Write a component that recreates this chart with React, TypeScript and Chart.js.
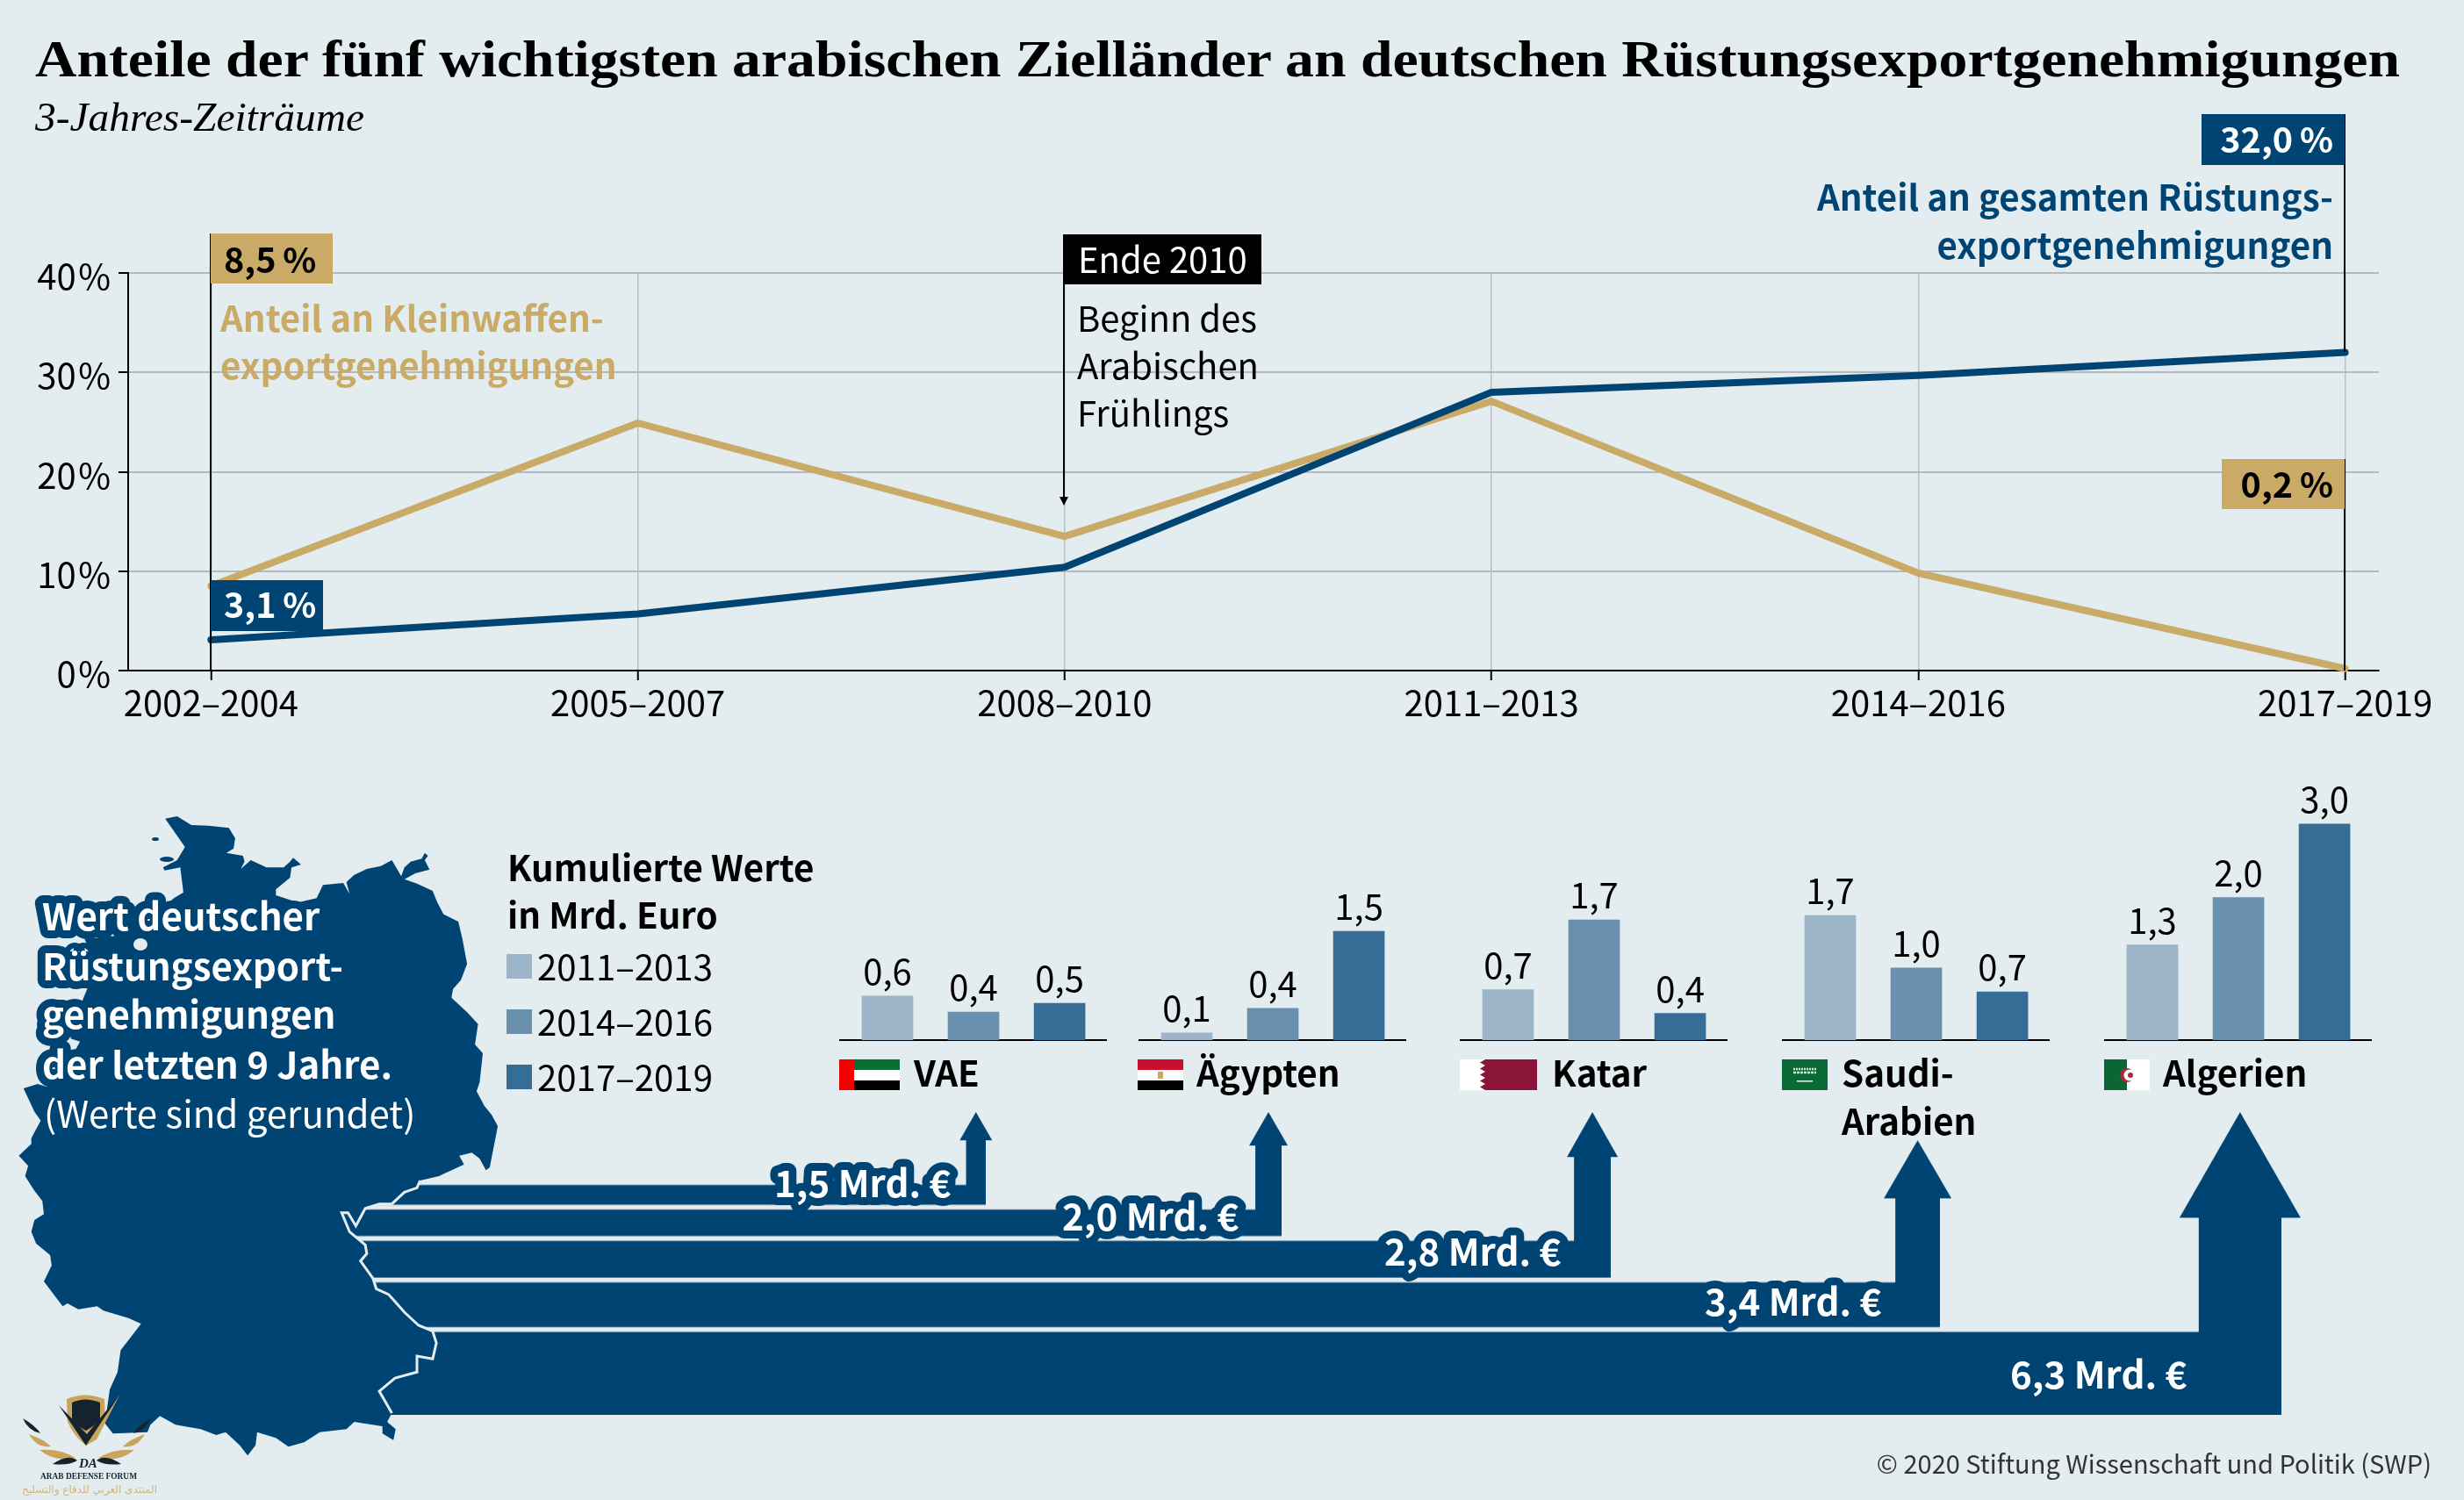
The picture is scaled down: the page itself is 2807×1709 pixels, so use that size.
import React, { useEffect, useRef } from 'react';
import { Chart, registerables } from 'chart.js';

Chart.register(...registerables);

const periods = ['2002–2004', '2005–2007', '2008–2010', '2011–2013', '2014–2016', '2017–2019'];
const totalShare = [3.1, 5.7, 10.4, 28.0, 29.7, 32.0];
const smallArmsShare = [8.5, 24.9, 13.5, 27.1, 9.8, 0.2];
const yTicks = [0, 10, 20, 30, 40];

const barPeriods = ['2011–2013', '2014–2016', '2017–2019'];
const countries = ['VAE', 'Ägypten', 'Katar', 'Saudi-Arabien', 'Algerien'];
const vaeValues = [0.61, 0.39, 0.51];
const egyptValues = [0.1, 0.44, 1.51];
const qatarValues = [0.7, 1.67, 0.37];
const saudiValues = [1.73, 1.0, 0.67];
const algeriaValues = [1.32, 1.98, 3.0];
const countryValues = [vaeValues, egyptValues, qatarValues, saudiValues, algeriaValues];
const exportTotals = [1.5, 2.0, 2.8, 3.4, 6.3];

const W = 2807;
const H = 1709;
const BG = '#e3ecef';
const NAVY = '#004474';
const GOLD = '#c9aa66';
const BAR_COLORS = ['#9bb4c8', '#6a90b0', '#366d96'];
const SANS = '"Noto Sans CJK SC", "Noto Sans", sans-serif';
const SERIF = '"Liberation Serif", serif';

const comma = (v: number, digits = 1) => v.toFixed(digits).replace('.', ',');

function LineChart() {
  const ref = useRef<HTMLCanvasElement>(null);
  useEffect(() => {
    const line = (label: string, data: number[], color: string) => ({
      label,
      data: data.map((y, x) => ({ x, y })),
      borderColor: color,
      borderWidth: 8,
      borderCapStyle: 'round' as const,
      borderJoinStyle: 'round' as const,
      pointRadius: 0,
      tension: 0,
      clip: false as const,
    });
    const chart = new Chart(ref.current!, {
      type: 'line',
      data: {
        datasets: [
          line('Anteil an gesamten Rüstungsexportgenehmigungen', totalShare, NAVY),
          line('Anteil an Kleinwaffenexportgenehmigungen', smallArmsShare, GOLD),
        ],
      },
      options: {
        animation: false,
        responsive: false,
        devicePixelRatio: 1,
        layout: { padding: { top: 311, right: 97, left: 0, bottom: 76 } },
        plugins: { legend: { display: false }, tooltip: { enabled: false } },
        scales: {
          x: {
            type: 'linear',
            min: -0.194,
            max: 5.079,
            afterBuildTicks: (s: any) => {
              s.ticks = periods.map((_, value) => ({ value }));
            },
            afterFit: (s: any) => {
              s.height = 60;
              s.paddingLeft = 0;
              s.paddingRight = 0;
            },
            border: { color: '#000', width: 2 },
            grid: { color: '#b9c0c4', lineWidth: 1.5, tickColor: '#000', tickLength: 11, tickWidth: 2 },
            ticks: {
              autoSkip: false,
              maxRotation: 0,
              color: '#000',
              padding: 2,
              font: { family: SANS, size: 40 },
              callback: (v: any) => periods[v],
            },
          },
          y: {
            min: 0,
            max: 40,
            afterBuildTicks: (s: any) => {
              s.ticks = yTicks.map((value) => ({ value }));
            },
            afterFit: (s: any) => {
              s.width = 146;
              s.paddingTop = 0;
              s.paddingBottom = 0;
            },
            border: { color: '#000', width: 2 },
            grid: { color: '#b3b9bc', lineWidth: 2, tickColor: '#000', tickLength: 11, tickWidth: 2 },
            ticks: {
              color: '#000',
              padding: 9,
              labelOffset: 4,
              font: { family: SANS, size: 40 },
              callback: (v: any) => `${v}\u200A%`,
            },
          },
        },
      },
    });
    return () => chart.destroy();
  }, []);
  return <canvas ref={ref} width={W} height={900} style={{ position: 'absolute', left: 0, top: 0 }} />;
}

const valueLabels = {
  id: 'valueLabels',
  afterDatasetsDraw(chart: any) {
    const { ctx } = chart;
    ctx.save();
    ctx.font = `40px ${SANS}`;
    ctx.fillStyle = '#000';
    ctx.textAlign = 'center';
    ctx.textBaseline = 'alphabetic';
    chart.getDatasetMeta(0).data.forEach((bar: any, i: number) => {
      ctx.fillText(comma(chart.data.datasets[0].data[i].y), bar.x, bar.y - 13);
    });
    ctx.restore();
  },
};

function CountryBars({ values, left, label }: { values: number[]; left: number; label: string }) {
  const ref = useRef<HTMLCanvasElement>(null);
  useEffect(() => {
    const chart = new Chart(ref.current!, {
      type: 'bar',
      data: {
        datasets: [
          {
            label,
            data: values.map((y, x) => ({ x, y })) as any,
            backgroundColor: BAR_COLORS,
            barThickness: 58,
          },
        ],
      },
      options: {
        animation: false,
        responsive: false,
        devicePixelRatio: 1,
        layout: { padding: { top: 26, bottom: 2, left: 0, right: 0 } },
        plugins: { legend: { display: false }, tooltip: { enabled: false } },
        scales: {
          x: {
            type: 'linear',
            offset: false,
            min: -0.561,
            max: 2.55,
            afterFit: (s: any) => {
              s.height = 0;
              s.paddingLeft = 0;
              s.paddingRight = 0;
            },
            border: { color: '#000', width: 2 },
            grid: { display: false },
            ticks: { display: false },
          },
          y: { display: false, min: 0, max: 3.4 },
        },
      },
      plugins: [valueLabels],
    });
    return () => chart.destroy();
  }, [values, label]);
  return <canvas ref={ref} width={305} height={307} style={{ position: 'absolute', left, top: 880 }} />;
}

// where each flow ends on the page: right edge of the shaft, and the arrow head
const flowLayout = [
  { end: 1123, tipY: 1267, headY: 1299, headW: 37 },
  { end: 1460, tipY: 1267, headY: 1305, headW: 44 },
  { end: 1835, tipY: 1267, headY: 1318, headW: 58 },
  { end: 2210, tipY: 1299, headY: 1365, headW: 77 },
  { end: 2599, tipY: 1267, headY: 1387, headW: 138 },
];
const FLOW_TOP = 1250;
const FLOW_BOTTOM = 1611.5;
const FLOW_UNIT = 14.97;
const FLOW_GAP = 5.5 / FLOW_UNIT;

const flowArrows = {
  id: 'flowArrows',
  beforeDraw(chart: any) {
    const { ctx, scales } = chart;
    const { x, y } = scales;
    const top = (v: number) => y.getPixelForValue(v);
    ctx.save();
    ctx.fillStyle = NAVY;
    let base = 0;
    // stack the bands upwards, biggest at the bottom
    for (let i = exportTotals.length - 1; i >= 0; i--) {
      const v = exportTotals[i];
      const l = flowLayout[i];
      const bandBottom = top(base);
      const bandTop = top(base + v);
      const right = x.getPixelForValue(l.end);
      const left = right - (bandBottom - bandTop);
      const mid = (left + right) / 2;
      const headY = l.headY - FLOW_TOP;
      const tipY = l.tipY - FLOW_TOP;
      ctx.beginPath();
      ctx.moveTo(x.getPixelForValue(380), bandBottom);
      ctx.lineTo(right, bandBottom);
      ctx.lineTo(right, headY);
      ctx.lineTo(mid + l.headW / 2, headY);
      ctx.lineTo(mid, tipY);
      ctx.lineTo(mid - l.headW / 2, headY);
      ctx.lineTo(left, headY);
      ctx.lineTo(left, bandTop);
      ctx.lineTo(x.getPixelForValue(380), bandTop);
      ctx.closePath();
      ctx.fill();
      base += v + FLOW_GAP;
    }
    ctx.restore();
  },
};

function Flows() {
  const ref = useRef<HTMLCanvasElement>(null);
  useEffect(() => {
    const chart = new Chart(ref.current!, {
      type: 'scatter',
      data: { datasets: [{ label: 'Wert in Mrd. Euro', data: [], pointRadius: 0 }] },
      options: {
        animation: false,
        responsive: false,
        devicePixelRatio: 1,
        layout: { padding: 0 },
        plugins: { legend: { display: false }, tooltip: { enabled: false } },
        scales: {
          x: { display: false, type: 'linear', min: 0, max: W },
          y: { display: false, type: 'linear', min: 0, max: (FLOW_BOTTOM - FLOW_TOP) / FLOW_UNIT },
        },
      },
      plugins: [flowArrows],
    });
    return () => chart.destroy();
  }, []);
  return (
    <canvas
      ref={ref}
      width={W}
      height={FLOW_BOTTOM - FLOW_TOP}
      style={{ position: 'absolute', left: 0, top: FLOW_TOP, width: W, height: FLOW_BOTTOM - FLOW_TOP }}
    />
  );
}

// map outline, traced in crop coordinates and converted below
const northCoast = [
  [527, 98], [565, 90], [610, 120], [665, 122], [730, 130], [750, 165], [745, 200], [722, 215], [775, 225],
  [780, 245], [768, 270], [800, 240], [850, 265], [905, 265], [925, 245], [935, 232], [960, 255], [930, 265],
  [925, 300], [880, 340], [880, 360], [950, 385], [1010, 370], [1030, 325], [1095, 318], [1115, 355], [1105, 315],
  [1130, 290], [1170, 270], [1215, 260], [1250, 240], [1280, 295], [1290, 265], [1310, 245], [1345, 235], [1355, 215],
  [1365, 225], [1355, 240], [1370, 272], [1325, 285], [1290, 305], [1330, 320], [1380, 345], [1395, 385], [1415, 425],
  [1462, 450], [1475, 510], [1490, 595], [1470, 650], [1445, 680], [1440, 710], [1490, 760], [1525, 800], [1515, 870],
  [1540, 900], [1530, 1000], [1520, 1030], [1545, 1080], [1568, 1110], [1588, 1149],
];
const eastBorder = [
  [1562, 90], [1550, 100], [1530, 60], [1505, 40], [1465, 50], [1480, 80], [1400, 120], [1340, 135], [1330, 160],
  [1290, 175], [1250, 215], [1210, 215], [1165, 230], [1135, 290], [1110, 245], [1090, 245], [1115, 310], [1165, 355],
  [1170, 385], [1150, 410], [1190, 470], [1200, 505], [1240, 525], [1290, 585], [1335, 630], [1380, 650], [1392, 690],
  [1380, 745], [1330, 735], [1330, 790], [1260, 810], [1210, 855], [1250, 930],
];
const southWest = [
  [1235, 960], [1262, 985], [1255, 1022], [1220, 1000], [1220, 975], [1130, 960], [1105, 985], [1020, 995],
  [970, 1030], [920, 1045], [880, 1015], [820, 995], [815, 1040], [790, 1075], [765, 1040], [720, 995], [690, 1005],
  [640, 985], [560, 970], [510, 940], [480, 970], [470, 995], [360, 1000], [335, 965], [350, 850], [375, 790],
  [385, 715], [450, 625], [410, 605], [330, 580], [310, 565], [250, 575], [215, 555], [200, 565], [140, 480],
  [165, 425], [160, 390], [115, 350], [100, 310], [110, 270], [140, 250], [135, 205], [110, 170], [80, 120],
  [90, 85], [60, 50], [100, 10],
];
const westCoast = [
  [100, 1190], [130, 1130], [110, 1100], [75, 1020], [120, 1005], [150, 1015], [240, 890], [255, 860], [225, 850],
  [265, 715], [280, 675], [290, 560], [270, 510], [400, 495], [440, 490], [500, 420], [555, 370], [585, 350],
  [575, 265], [525, 275], [520, 265], [565, 240], [590, 195],
];
const fromNorth = (p: number[]) => [p[0] / 2.8, 900 + p[1] / 3];
const fromSouth = (p: number[]) => [p[0] / 2.8, 1300 + p[1] / 3];
const toPoints = (list: number[][]) => list.map((p) => `${p[0].toFixed(1)},${p[1].toFixed(1)}`).join(' ');
const mapOutline = toPoints([
  ...northCoast.map(fromNorth),
  ...eastBorder.map(fromSouth),
  ...southWest.map(fromSouth),
  ...westCoast.map(fromNorth),
]);
const borderLine = toPoints(eastBorder.slice(7).map(fromSouth));

function GermanyMap() {
  return (
    <svg width={W} height={H} style={{ position: 'absolute', left: 0, top: 0 }}>
      <polygon points={mapOutline} fill={NAVY} />
      <polyline points={borderLine} fill="none" stroke="#e3eef3" strokeWidth={3} />
      <ellipse cx={160} cy={1076} rx={8} ry={7} fill={BG} />
      <ellipse cx={177} cy={956} rx={4} ry={2} fill={NAVY} />
      <ellipse cx={190} cy={979} rx={8} ry={3} fill={NAVY} />
    </svg>
  );
}

function T(props: {
  x: number;
  y: number;
  size: number;
  bold?: boolean;
  fill?: string;
  end?: boolean;
  w?: number;
  halo?: boolean;
  family?: string;
  italic?: boolean;
  children: React.ReactNode;
}) {
  const { x, y, size, bold, fill = '#000', end, w, halo, family = SANS, italic, children } = props;
  return (
    <text
      x={x}
      y={family === SANS ? y + 1.5 : y}
      fontFamily={family}
      fontSize={size}
      fontWeight={bold ? 700 : 400}
      fontStyle={italic ? 'italic' : 'normal'}
      fill={fill}
      textAnchor={end ? 'end' : 'start'}
      textLength={w}
      lengthAdjust={w ? 'spacingAndGlyphs' : undefined}
      stroke={halo ? NAVY : undefined}
      strokeWidth={halo ? 18 : undefined}
      strokeLinejoin="round"
      paintOrder="stroke"
    >
      {children}
    </text>
  );
}

function Flags() {
  return (
    <g>
      <rect x={956} y={1207} width={69} height={12} fill="#0b6e33" />
      <rect x={956} y={1219} width={69} height={12} fill="#fff" />
      <rect x={956} y={1231} width={69} height={11} fill="#000" />
      <rect x={956} y={1207} width={17} height={35} fill="#f40000" />

      <rect x={1296} y={1207} width={52} height={12} fill="#c8102e" />
      <rect x={1296} y={1219} width={52} height={12} fill="#fff" />
      <rect x={1296} y={1231} width={52} height={11} fill="#000" />
      <rect x={1319} y={1221} width={6} height={8} fill="#c9a85a" />

      <rect x={1663} y={1207} width={88} height={35} fill="#fff" />
      <polygon
        points="1692,1207 1751,1207 1751,1242 1692,1242 1686,1238.5 1692,1235 1686,1231.5 1692,1228 1686,1224.5 1692,1221 1686,1217.5 1692,1214 1686,1210.5"
        fill="#8a1538"
      />

      <rect x={2030} y={1207} width={52} height={35} fill="#0a6a35" />
      <line x1={2043} y1={1218} x2={2069} y2={1218} stroke="#d6e6db" strokeWidth={2.5} strokeDasharray="2 1" />
      <line x1={2043} y1={1222} x2={2069} y2={1222} stroke="#d6e6db" strokeWidth={2.5} strokeDasharray="3 1" />
      <rect x={2047} y={1231} width={18} height={1.5} fill="#fff" />

      <rect x={2397} y={1207} width={26} height={35} fill="#0b6633" />
      <rect x={2423} y={1207} width={26} height={35} fill="#fff" />
      <circle cx={2423} cy={1225} r={8} fill="#a5283f" />
      <circle cx={2426} cy={1225} r={6.5} fill="#fff" />
      <circle cx={2427} cy={1225} r={3} fill="#a5283f" />
    </g>
  );
}

function Logo() {
  return (
    <g>
      <path d="M76,1594 Q97,1585 119,1594 L120,1620 Q112,1636 98,1647 Q84,1636 77,1620 Z" fill="#c9a45c" />
      <path d="M82,1598 Q97,1591 114,1598 L114,1618 Q107,1625 98,1630 Q88,1625 82,1618 Z" fill="#14232e" />
      <path d="M67,1601 L98,1647 L137,1588 L99,1634 Z" fill="#14232e" />
      <path d="M98,1647 L137,1588 L110,1640 Z" fill="#c9a45c" />
      <path d="M26,1616 Q40,1624 46,1633 Q32,1630 26,1616 Z" fill="#14232e" />
      <path d="M33,1634 Q50,1640 58,1648 Q42,1650 33,1634 Z" fill="#c9a45c" />
      <path d="M45,1652 Q68,1650 86,1661 Q62,1666 45,1652 Z" fill="#c9a45c" />
      <path d="M60,1668 Q78,1656 88,1664 Q78,1670 60,1668 Z" fill="#14232e" />
      <path d="M172,1616 Q158,1624 152,1633 Q166,1630 172,1616 Z" fill="#14232e" />
      <path d="M165,1634 Q148,1640 140,1648 Q156,1650 165,1634 Z" fill="#c9a45c" />
      <path d="M153,1652 Q130,1650 112,1661 Q136,1666 153,1652 Z" fill="#c9a45c" />
      <path d="M138,1668 Q120,1656 110,1664 Q120,1670 138,1668 Z" fill="#14232e" />
      <T x={90} y={1672} size={15} bold family={SERIF} fill="#14232e" italic>
        DA
      </T>
      <T x={46} y={1685} size={11} bold family={SERIF} fill="#14232e" w={110}>
        ARAB DEFENSE FORUM
      </T>
      <text x={102} y={1701} fontFamily='"DejaVu Sans"' fontSize={12} fill="#d3b67c" textAnchor="middle" direction="rtl">
        المنتدى العربي للدفاع والتسليح
      </text>
    </g>
  );
}

function Callouts() {
  return (
    <g>
      <line x1={240} y1={266} x2={240} y2={764} stroke="#000" strokeWidth={2} />
      <rect x={240} y={266} width={139} height={57} fill={GOLD} />
      <T x={255} y={309} size={39.5} bold>
        8,5{'\u2009'}%
      </T>
      <T x={251} y={376} size={40.3} bold fill={GOLD}>
        Anteil an Kleinwaffen-
      </T>
      <T x={251} y={430} size={40.3} bold fill={GOLD}>
        exportgenehmigungen
      </T>
      <rect x={240} y={661} width={128} height={58} fill={NAVY} />
      <T x={255} y={702} size={39.5} bold fill="#fff">
        3,1{'\u2009'}%
      </T>

      <line x1={1212} y1={267} x2={1212} y2={570} stroke="#000" strokeWidth={2} />
      <polygon points="1207,566 1217,566 1212,576" fill="#000" />
      <rect x={1212} y={267} width={225} height={57} fill="#000" />
      <T x={1228} y={309} size={40} fill="#fff">
        Ende 2010
      </T>
      <T x={1227} y={376} size={40}>
        Beginn des
      </T>
      <T x={1227} y={430} size={40}>
        Arabischen
      </T>
      <T x={1227} y={484} size={40}>
        Frühlings
      </T>

      <line x1={2671} y1={130} x2={2671} y2={401} stroke="#000" strokeWidth={2} />
      <rect x={2508} y={130} width={163} height={58} fill={NAVY} />
      <T x={2658} y={172} size={39.5} bold fill="#fff" end>
        32,0{'\u2009'}%
      </T>
      <T x={2658} y={238} size={40.3} bold fill={NAVY} end>
        Anteil an gesamten Rüstungs-
      </T>
      <T x={2658} y={293} size={40.3} bold fill={NAVY} end>
        exportgenehmigungen
      </T>

      <line x1={2671} y1={523} x2={2671} y2={764} stroke="#000" strokeWidth={2} />
      <rect x={2531} y={523} width={140} height={57} fill={GOLD} />
      <T x={2658} y={565} size={39.5} bold end>
        0,2{'\u2009'}%
      </T>
    </g>
  );
}

const legendRows = [1087, 1150, 1213];
const countryLabels = [
  { x: 1041, text: 'VAE' },
  { x: 1363, text: 'Ägypten' },
  { x: 1768, text: 'Katar' },
  { x: 2098, text: 'Saudi-' },
  { x: 2464, text: 'Algerien' },
];
const flowLabels = [
  { x: 882, y: 1362 },
  { x: 1210, y: 1400 },
  { x: 1577, y: 1440 },
  { x: 1942, y: 1497 },
  { x: 2290, y: 1580 },
];
const barLeft = [956, 1296.5, 1663, 2030, 2397];

export default function App() {
  return (
    <div style={{ position: 'absolute', left: 0, top: 0, width: W, height: H, background: BG, overflow: 'hidden' }}>
      <LineChart />
      {countryValues.map((values, i) => (
        <CountryBars key={countries[i]} values={values} left={barLeft[i]} label={countries[i]} />
      ))}
      <Flows />
      <GermanyMap />
      <svg width={W} height={H} style={{ position: 'absolute', left: 0, top: 0 }}>
        <T x={40} y={87} size={59} bold family={SERIF} w={2694}>
          Anteile der fünf wichtigsten arabischen Zielländer an deutschen Rüstungsexportgenehmigungen
        </T>
        <T x={40} y={149} size={46} italic family={SERIF} w={375}>
          3-Jahres-Zeiträume
        </T>
        <Callouts />

        <T x={48} y={1058} size={42} bold fill="#fff" halo>
          Wert deutscher
        </T>
        <T x={48} y={1115} size={42} bold fill="#fff" halo>
          Rüstungsexport-
        </T>
        <T x={48} y={1170} size={42} bold fill="#fff" halo>
          genehmigungen
        </T>
        <T x={48} y={1227} size={42} bold fill="#fff" halo>
          der letzten 9 Jahre.
        </T>
        <T x={50} y={1283} size={42} fill="#fff">
          (Werte sind gerundet)
        </T>

        <T x={578} y={1002} size={40.3} bold>
          Kumulierte Werte
        </T>
        <T x={578} y={1056} size={40.3} bold>
          in Mrd. Euro
        </T>
        {barPeriods.map((p, i) => (
          <g key={p}>
            <rect x={577} y={legendRows[i]} width={29} height={28} fill={BAR_COLORS[i]} />
            <T x={612} y={legendRows[i] + 28} size={40.2}>
              {p}
            </T>
          </g>
        ))}

        <Flags />
        {countryLabels.map((c) => (
          <T key={c.text} x={c.x} y={1236} size={40.3} bold>
            {c.text}
          </T>
        ))}
        <T x={2098} y={1291} size={40.3} bold>
          Arabien
        </T>

        {exportTotals.map((v, i) => (
          <T key={v} x={flowLabels[i].x} y={flowLabels[i].y} size={42} bold fill="#fff" halo>
            {comma(v)} Mrd. €
          </T>
        ))}

        <T x={2770} y={1677} size={29} end fill="#333">
          © 2020 Stiftung Wissenschaft und Politik (SWP)
        </T>
        <Logo />
      </svg>
    </div>
  );
}
